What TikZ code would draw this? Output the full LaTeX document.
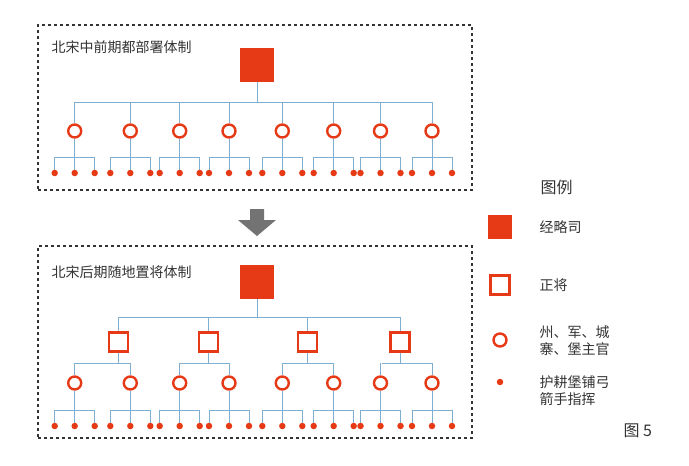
\documentclass[tikz,border=0pt]{standalone}
\usepackage{fontspec}
\setmainfont{Noto Sans CJK SC}
\definecolor{rd}{HTML}{E63A17}
\definecolor{bl}{HTML}{7FAED3}
\definecolor{tx}{HTML}{333333}
\begin{document}
\begin{tikzpicture}[x=1pt,y=-1pt,
 ln/.style={draw=bl,line width=1pt},
 big/.style={fill=rd,minimum size=34pt,inner sep=0,draw=none},
 sq/.style={draw=rd,line width=2.4pt,minimum size=19pt,inner sep=0},
 ci/.style={circle,draw=rd,line width=2.4pt,minimum size=13pt,inner sep=0},
 dt/.style={circle,fill=rd,minimum size=6.5pt,inner sep=0},
 frame/.style={draw=black!80,dashed,line width=1.2pt},
 txt/.style={text=tx,font=\fontsize{14}{17}\selectfont,align=left}]
\useasboundingbox (0,0) rectangle (689,466);
\node[frame,minimum width=434pt,minimum height=165pt,inner sep=0] (b1) at (255,107.5) {};
\node[frame,minimum width=434pt,minimum height=192pt,inner sep=0] (b2) at (255,342) {};
\node[txt,anchor=west] (t1) at (48,47) {北宋中前期都部署体制};
\node[txt,anchor=west] (t2) at (48,272) {北宋后期随地置将体制};
\node[big] (r1) at (257,65) {};
\node[big] (r2) at (257,282) {};
\def\cx{{74.7,130.3,179.7,229,282.3,333.7,380.5,432}}
% top
\draw[ln] (r1.south) -- (257,102);
\draw[ln] (74.7,102) -- (432,102);
\foreach \i in {0,...,7}{
 \pgfmathsetmacro\x{\cx[\i]}
 \node[ci] (c\i) at (\x,131) {};
 \draw[ln] (\x,102) -- (c\i.north);
 \draw[ln] (c\i.south) -- (\x,172);
 \draw[ln] (\x-20,172) -- (\x-20,157) -- (\x+20,157) -- (\x+20,172);
 \node[dt] (dl\i) at (\x-20,173) {};
 \node[dt] (dm\i) at (\x,173) {};
 \node[dt] (dr\i) at (\x+20,173) {};
}
% bottom
\draw[ln] (r2.south) -- (257,317);
\draw[ln] (118.7,317) -- (400,317);
\foreach \s/\sx in {0/118.7,1/208.7,2/307.3,3/400}{
 \node[sq] (s\s) at (\sx,342) {};
 \draw[ln] (\sx,317) -- (s\s.north);
 \draw[ln] (s\s.south) -- (\sx,363);
}
\draw[ln] (74.7,363) -- (130.3,363) (179.7,363) -- (229,363) (282.3,363) -- (333.7,363) (382.3,363) -- (432,363);
\foreach \i in {0,...,7}{
 \pgfmathsetmacro\x{\cx[\i]}
 \node[ci] (e\i) at (\x,383) {};
 \draw[ln] (\x,363) -- (e\i.north);
 \draw[ln] (e\i.south) -- (\x,425);
 \draw[ln] (\x-20,425) -- (\x-20,410) -- (\x+20,410) -- (\x+20,425);
 \node[dt] (fl\i) at (\x-20,426) {};
 \node[dt] (fm\i) at (\x,426) {};
 \node[dt] (fr\i) at (\x+20,426) {};
}
% arrow
\fill[black!55] (250,209) -- (264,209) -- (264,220) -- (276,220) -- (257,236) -- (238,220) -- (250,220) -- cycle;
% legend
\node[txt,anchor=west,font=\fontsize{16}{18}\selectfont] (lg) at (537,187) {图例};
\node[big,minimum size=24pt] (l1) at (500,227) {};
\node[txt,anchor=west] (l1t) at (536,227) {经略司};
\node[sq] (l2) at (500,285) {};
\node[txt,anchor=west] (l2t) at (536,285) {正将};
\node[ci] (l3) at (500,340) {};
\node[txt,anchor=west] (l3t) at (536,341) {州、军、城\\寨、堡主官};
\node[dt] (l4) at (500,382) {};
\node[txt,anchor=west] (l4t) at (536,391) {护耕堡铺弓\\箭手指挥};
\node[txt,anchor=west,font=\fontsize{16}{18}\selectfont] (fig) at (620,431) {图 5};
\end{tikzpicture}
\end{document}
